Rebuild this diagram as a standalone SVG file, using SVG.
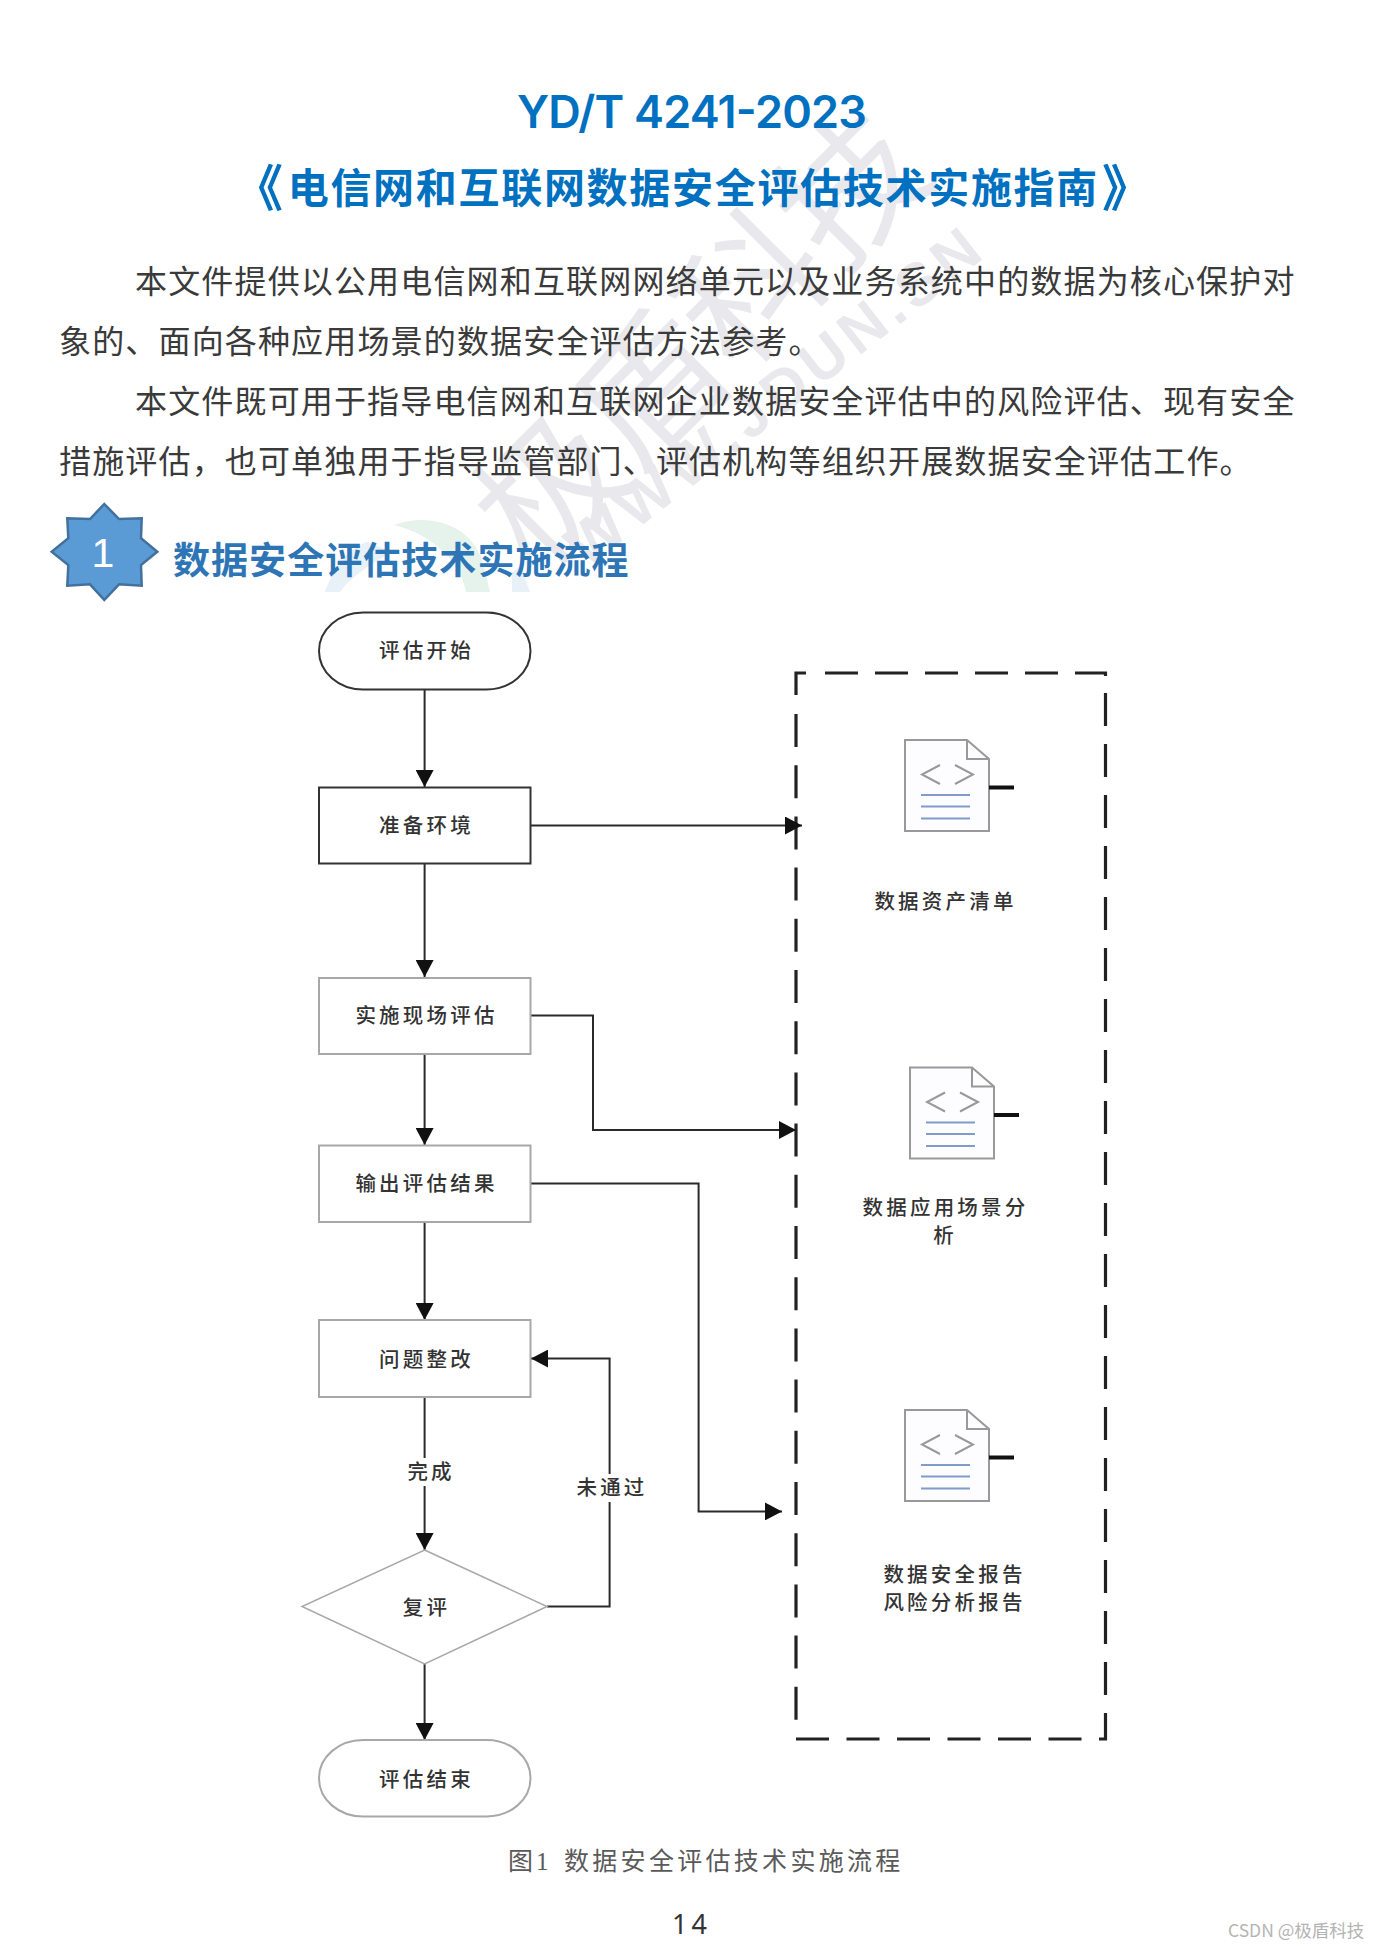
<svg xmlns="http://www.w3.org/2000/svg" width="1380" height="1949" viewBox="0 0 1380 1949">
<style>
text{font-family:"Noto Sans CJK SC","Liberation Sans",sans-serif}
.body{font-size:32px;letter-spacing:1.16px;fill:#3a3a3a}
.lab{font-size:20.500px;letter-spacing:3.200px;fill:#333;font-weight:500;text-anchor:middle}
.box{fill:#fff;stroke:#a8a8a8;stroke-width:2}
.dark{stroke:#333}
.con{fill:none;stroke:#2a2a2a;stroke-width:2;marker-end:url(#ah)}
.docl{stroke:#7f9ccb;stroke-width:2.200}
.chev{fill:none;stroke:#999;stroke-width:2}
.dash{fill:none;stroke:#222;stroke-width:3.200}
</style>
<defs>
<marker id="ah" markerUnits="userSpaceOnUse" markerWidth="17" markerHeight="18" refX="17" refY="9" orient="auto"><path d="M0 0L17 9L0 18Z" fill="#111"/></marker>
<g id="doc">
<path d="M0 0H62L84 19V91H0Z" fill="#fdfdff" stroke="#999" stroke-width="2"/>
<path d="M62 0V19H84" fill="none" stroke="#999" stroke-width="2"/>
<path class="chev" d="M35 25L17 34.500L35 44M50 25L68 34.500L50 44"/>
<path class="docl" d="M16 55H65M16 66.500H65M16 78.500H65"/>
<path d="M84 47.500H109" stroke="#111" stroke-width="4"/>
</g>
</defs>
<rect width="1380" height="1949" fill="#fff"/>
<g id="watermark">
<text transform="translate(702 340) rotate(-45)" text-anchor="middle" y="50" font-size="142" font-weight="400" fill="#e9e9ed">极盾科技</text>
<text transform="translate(775 395) rotate(-38)" text-anchor="middle" y="21" font-size="60" font-weight="700" fill="#e9e9ed" letter-spacing="6" style="font-family:'Liberation Sans',sans-serif">WWW.JDUN.SN</text>
<path d="M394 525C430 512 470 525 482 560L490 592H466C462 565 435 535 394 525Z" fill="#e6f2ec"/>
<path d="M325 592C335 565 350 548 367 542L392 552C368 565 350 578 340 592Z" fill="#e8f0f8"/>
<path d="M512 573L520 566L530 592H512Z" fill="#e8f0f8"/>
<rect y="592" width="1380" height="1290" fill="#fff"/>
</g>
<g id="title">
<text x="692" y="128" text-anchor="middle" font-size="45" font-weight="600" fill="#0070c0" style="font-family:Inter,'Liberation Sans',sans-serif" textLength="350">YD/T 4241-2023</text>
<text x="233" y="206" font-size="50" font-weight="700" fill="#0070c0">《</text>
<text x="287.700" y="203" font-size="41" font-weight="700" fill="#0070c0" letter-spacing="1.700">电信网和互联网数据安全评估技术实施指南</text>
<text x="1102" y="206" font-size="50" font-weight="700" fill="#0070c0">》</text>
</g>
<g id="paragraphs">
<text class="body" x="135" y="293">本文件提供以公用电信网和互联网网络单元以及业务系统中的数据为核心保护对</text>
<text class="body" x="59" y="353">象的、面向各种应用场景的数据安全评估方法参考。</text>
<text class="body" x="135" y="413">本文件既可用于指导电信网和互联网企业数据安全评估中的风险评估、现有安全</text>
<text class="body" x="59" y="473">措施评估&#65292;也可单独用于指导监管部门、评估机构等组织开展数据安全评估工作。</text>
</g>
<g id="section-heading">
<path d="M104.300 504L119 519L141.700 518.300L141 538.300L157.300 551.700L141 565L141.700 585.700L119 584.300L104.300 600L90 584.300L67.300 585.700L68.300 565L51.700 551.700L68.300 538.300L67.300 518.300L90 519Z" fill="#5b9bd5" stroke="#41719c" stroke-width="2.500"/>
<text x="103" y="567" text-anchor="middle" font-size="41" fill="#fff" style="font-family:'Liberation Sans',sans-serif">1</text>
<text x="173" y="574" font-size="37" font-weight="700" fill="#2e75b6" letter-spacing="1.050">数据安全评估技术实施流程</text>
</g>
<g id="output-box">
<path class="dash" stroke-dasharray="33 17.500" d="M796 1739H1105.500V1713"/>
<path class="dash" stroke-dasharray="33 18" d="M1105.500 1695V693"/>
<path class="dash" d="M1105.500 676V673H1075"/>
<path class="dash" stroke-dasharray="33 17" d="M1058 673H825"/>
<path class="dash" d="M806 673H796V695"/>
<path class="dash" stroke-dasharray="33 18.200" d="M796 714V1720"/>
</g>
<g id="connectors">
<path class="con" d="M424.600 689V787"/>
<path class="con" d="M424.600 863V977"/>
<path class="con" d="M424.600 1054V1145"/>
<path class="con" d="M424.600 1222V1320"/>
<path class="con" d="M424.600 1397V1550"/>
<path class="con" d="M424.600 1664V1740"/>
<path class="con" d="M530 825.500H802"/>
<path class="con" d="M530 1015.600H593V1130H796"/>
<path class="con" d="M530 1183.500H698.600V1511.400H782"/>
<path class="con" d="M547 1606.500H609.600V1358.600H531"/>
<g id="label-done"><rect x="404" y="1458" width="50" height="28" fill="#fff"/><text class="lab" x="431" y="1479" style="letter-spacing:3px">完成</text></g>
<g id="label-fail"><rect x="574" y="1474" width="72" height="28" fill="#fff"/><text class="lab" x="612" y="1495">未通过</text></g>
</g>
<g id="start"><rect class="box dark" x="319" y="612.500" width="211.500" height="77" rx="44" ry="38.500"/><text class="lab" x="426.500" y="658">评估开始</text></g>
<g id="prepare"><rect class="box dark" x="319" y="787.500" width="211.500" height="76"/><text class="lab" x="426.500" y="833">准备环境</text></g>
<g id="assess"><rect class="box" x="319" y="978" width="211.500" height="76"/><text class="lab" x="426.500" y="1023">实施现场评估</text></g>
<g id="output"><rect class="box" x="319" y="1145.500" width="211.500" height="76.500"/><text class="lab" x="426.500" y="1191">输出评估结果</text></g>
<g id="fix"><rect class="box" x="319" y="1320" width="211.500" height="77"/><text class="lab" x="426.500" y="1367">问题整改</text></g>
<g id="review"><path class="box" style="stroke-width:1.500" d="M424.600 1550L547 1606.500L424.600 1664L302 1606.500Z"/><text class="lab" x="426.500" y="1615">复评</text></g>
<g id="end"><rect class="box" x="319" y="1740" width="211.500" height="76.500" rx="44" ry="38"/><text class="lab" x="426.500" y="1787">评估结束</text></g>
<g id="doc-inventory"><use href="#doc" x="905" y="740"/><text class="lab" x="945.500" y="909">数据资产清单</text></g>
<g id="doc-scenario"><use href="#doc" x="910" y="1067.500"/><text class="lab" x="945.500" y="1215">数据应用场景分</text><text class="lab" x="945" y="1243">析</text></g>
<g id="doc-report"><use href="#doc" x="905" y="1410"/><text class="lab" x="954.500" y="1582">数据安全报告</text><text class="lab" x="954.500" y="1610">风险分析报告</text></g>
<g id="caption"><text x="508" y="1870" font-size="25" fill="#5a5a5a" letter-spacing="3.300">图<tspan x="536" style="font-family:'Liberation Serif',serif">1</tspan><tspan x="564">数据安全评估技术实施流程</tspan></text></g>
<g id="page"><text x="672" y="1934" font-size="27" fill="#333" letter-spacing="4" style="font-family:'Noto Sans',sans-serif">14</text></g>
<g id="credit"><text x="1228" y="1937" font-size="17.500" fill="#b4b4b4">CSDN @极盾科技</text></g>
</svg>
